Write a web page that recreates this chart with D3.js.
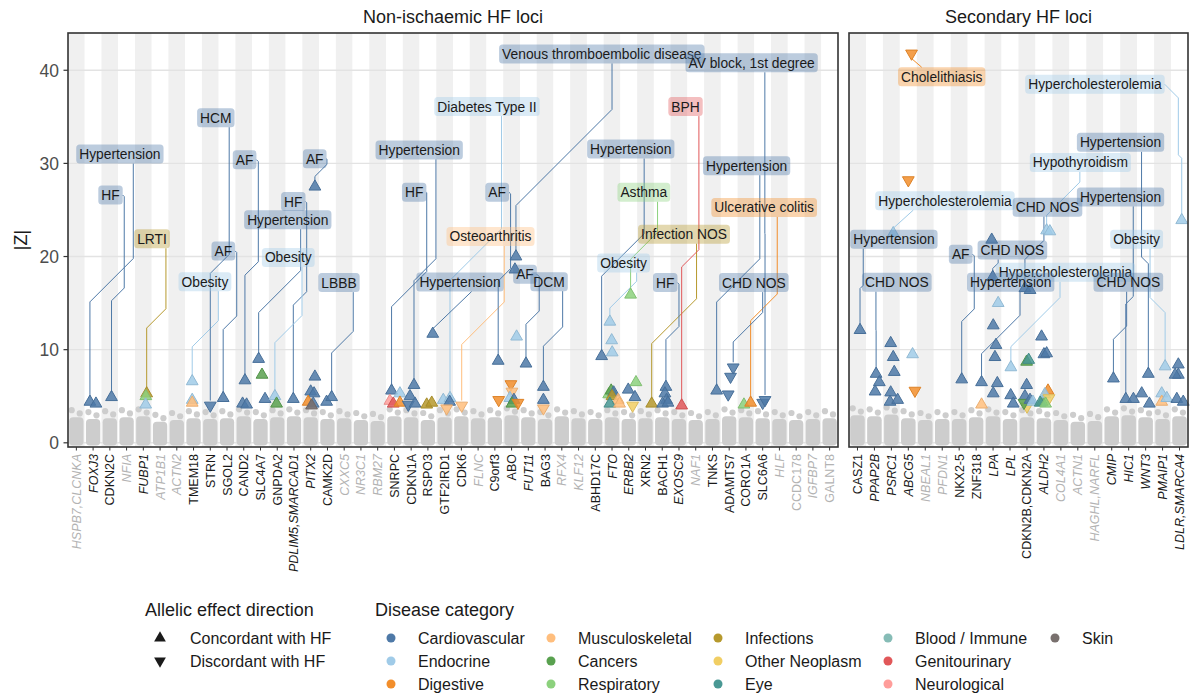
<!DOCTYPE html>
<html>
<head>
<meta charset="utf-8">
<script src="https://cdn.jsdelivr.net/npm/d3@7"></script>
<style>
  body { margin: 0; background: #fff; font-family: "Liberation Sans", Arial, sans-serif; }
</style>
</head>
<body>
<div id="viz"></div>
<script>
// ---- data ----
var lociLeft = ["HSPB7,CLCNKA","FOXJ3","CDKN2C","NFIA","FUBP1","ATP1B1","ACTN2","TMEM18","STRN","SGOL2",
  "CAND2","SLC4A7","GNPDA2","PDLIM5,SMARCAD1","PITX2","CAMK2D","CXXC5","NR3C1","RBM27","SNRPC",
  "CDKN1A","RSPO3","GTF2IRD1","CDK6","FLNC","C9orf3","ABO","FUT11","BAG3","RFX4",
  "KLF12","ABHD17C","FTO","ERBB2","XRN2","BACH1","EXOSC9","NAF1","TNKS","ADAMTS7",
  "CORO1A","SLC6A6","HLF","CCDC178","IGFBP7","GALNT8"];
var lociRight = ["CASZ1","PPAP2B","PSRC1","ABCG5","NBEAL1","PFDN1","NKX2-5","ZNF318","LPA","LPL",
  "CDKN2B,CDKN2A","ALDH2","COL4A1","ACTN1","HAGHL,NARFL","CMIP","HIC1","WNT3","PMAIP1","LDLR,SMARCA4"];

var italicLoci = ["HSPB7,CLCNKA","FOXJ3","NFIA","FUBP1","ATP1B1","ACTN2","PDLIM5,SMARCAD1","PITX2","CXXC5",
  "NR3C1","RBM27","FLNC","FUT11","RFX4","KLF12","FTO","ERBB2","EXOSC9","NAF1","HLF","IGFBP7",
  "PPAP2B","PSRC1","ABCG5","NBEAL1","PFDN1","LPA","LPL","ALDH2","COL4A1","ACTN1","HAGHL,NARFL",
  "CMIP","HIC1","WNT3","PMAIP1","LDLR,SMARCA4"];

// background |Z| (max of non-significant variants) per locus
var bgLeft = [3.5,3.3,3.4,3.5,3.6,3.0,3.2,3.4,3.3,3.4,3.6,3.3,3.5,3.6,3.5,3.3,3.4,3.2,3.1,3.6,
  3.5,3.2,3.5,3.6,3.4,3.5,3.7,3.5,3.3,3.6,3.4,3.3,3.5,3.3,3.4,3.5,3.3,3.2,3.3,3.6,3.5,3.4,3.3,3.2,3.3,3.4];
var bgRight = [3.7,3.6,3.8,3.4,3.2,3.3,3.3,3.5,3.6,3.3,3.5,3.4,3.2,3.0,3.1,3.6,3.7,3.5,3.3,3.6];

var categories = ["Cardiovascular","Endocrine","Digestive","Musculoskeletal","Cancers","Respiratory",
  "Infections","Other Neoplasm","Eye","Blood / Immune","Genitourinary","Neurological","Skin"];
var catColors = ["#4E79A7","#A0CBE8","#F28E2B","#FFBE7D","#59A14F","#8CD17D",
  "#B6992D","#F1CE63","#499894","#86BCB6","#E15759","#FF9D9A","#79706E"];

var CV = "Cardiovascular", EN = "Endocrine", DI = "Digestive", MS = "Musculoskeletal", CA = "Cancers",
    RE = "Respiratory", IN = "Infections", ON = "Other Neoplasm", EY = "Eye", GU = "Genitourinary",
    NE = "Neurological", SK = "Skin";

// [locus, position within locus (-0.5..0.5), |Z|, category, direction (1 concordant, -1 discordant)]
var hits = [
  ["FOXJ3",-0.19,4.4,CV,1],["FOXJ3",0.17,4.2,CV,1],
  ["CDKN2C",0.1,4.9,CV,1],
  ["FUBP1",0.2,5.3,IN,1],["FUBP1",0.15,5.0,RE,1],["FUBP1",0.14,4.1,EN,1],
  ["TMEM18",-0.08,6.6,EN,1],["TMEM18",-0.08,4.6,EN,1],["TMEM18",-0.08,4.3,MS,1],
  ["STRN",0,4.0,CV,-1],
  ["SGOL2",-0.23,4.8,CV,1],
  ["CAND2",0.07,6.7,CV,1],["CAND2",-0.07,4.2,CV,1],["CAND2",0.17,4.1,CV,1],
  ["SLC4A7",-0.11,9.0,CV,1],["SLC4A7",0.09,7.3,CA,1],["SLC4A7",0.27,4.7,CV,1],
  ["GNPDA2",-0.14,5.0,EN,1],["GNPDA2",-0.04,4.2,CA,1],
  ["PDLIM5,SMARCAD1",-0.04,4.7,CV,1],
  ["PITX2",0.25,27.5,CV,1],["PITX2",0.25,7.1,CV,1],["PITX2",0,5.5,CV,1],["PITX2",0.2,5.3,CV,1],
  ["PITX2",-0.15,4.4,DI,1],["PITX2",0.15,4.2,CV,1],["PITX2",0.05,4.0,SK,1],
  ["CAMK2D",-0.05,4.4,CV,1],["CAMK2D",0.25,4.9,CV,1],
  ["SNRPC",-0.17,5.6,CV,1],["SNRPC",-0.27,4.5,NE,1],["SNRPC",-0.07,4.2,GU,1],["SNRPC",0.33,5.3,EN,1],["SNRPC",0.33,4.3,DI,1],
  ["CDKN1A",0.17,6.2,CV,1],["CDKN1A",-0.07,5.0,CV,1],["CDKN1A",-0.17,4.1,CV,-1],["CDKN1A",0.23,4.2,CV,1],
  ["RSPO3",0.29,11.7,CV,1],["RSPO3",-0.07,4.1,IN,1],["RSPO3",0.23,4.3,IN,1],
  ["GTF2IRD1",-0.08,4.6,EN,1],["GTF2IRD1",0.32,4.8,EN,1],["GTF2IRD1",0.3,4.4,CV,1],["GTF2IRD1",0.12,3.7,MS,-1],
  ["CDK6",0.02,4.0,MS,-1],
  ["C9orf3",0.2,8.8,CV,1],["C9orf3",0.23,4.6,DI,-1],
  ["ABO",0.26,20.0,CV,1],["ABO",0.2,18.6,CV,1],["ABO",0.3,11.4,EN,1],["ABO",-0.04,6.3,DI,-1],["ABO",0.02,5.5,MS,-1],
  ["ABO",-0.1,4.8,EN,1],["ABO",0.14,4.6,CV,1],["ABO",0.02,4.2,CA,1],["ABO",0.38,4.3,DI,-1],
  ["FUT11",-0.14,8.5,CV,1],
  ["BAG3",-0.1,6.0,CV,1],["BAG3",-0.1,4.6,CV,1],["BAG3",-0.1,3.7,MS,-1],
  ["ABHD17C",0.38,9.3,CV,1],
  ["FTO",-0.13,13.0,EN,1],["FTO",-0.02,11.0,EN,1],["FTO",0.01,9.7,EN,1],
  ["FTO",-0.2,5.2,RE,1],["FTO",-0.05,5.6,CA,1],["FTO",0.1,5.4,CV,1],["FTO",0.0,5.0,IN,1],
  ["FTO",0.37,4.6,MS,1],["FTO",-0.13,4.2,EY,1],["FTO",0.45,4.2,MS,1],
  ["ERBB2",0.11,15.9,RE,1],["ERBB2",-0.03,5.7,CV,1],["ERBB2",0.43,6.5,RE,1],["ERBB2",0.37,4.9,CV,1],["ERBB2",0.23,4.0,ON,-1],
  ["XRN2",0.37,4.2,IN,1],
  ["BACH1",0.22,6.0,CV,1],["BACH1",0.16,5.3,CV,1],["BACH1",0.26,4.6,CV,1],["BACH1",0.02,4.2,CV,1],["BACH1",0.34,4.3,CV,1],
  ["EXOSC9",0.16,4.0,GU,1],
  ["TNKS",0.25,5.6,CV,1],
  ["ADAMTS7",0.24,8.1,CV,-1],["ADAMTS7",0.08,7.1,CV,-1],["ADAMTS7",-0.06,5.2,CV,-1],
  ["CORO1A",-0.12,4.1,RE,1],["CORO1A",0.28,4.3,DI,1],
  ["SLC6A6",0,4.3,CV,-1],["SLC6A6",0.14,4.6,CV,-1],

  ["CASZ1",0.15,12.1,CV,1],
  ["PPAP2B",0.1,7.4,CV,1],["PPAP2B",0.29,6.5,CV,1],["PPAP2B",0.04,5.5,CV,1],
  ["PSRC1",-0.04,10.7,CV,1],["PSRC1",0.11,9.2,CV,1],["PSRC1",0.17,7.6,CV,1],["PSRC1",-0.04,5.4,CV,1],
  ["PSRC1",-0.08,4.4,CV,1],["PSRC1",0.37,4.6,CV,1],["PSRC1",0.11,22.5,EN,1],
  ["ABCG5",0.25,9.5,EN,1],["ABCG5",0.39,5.6,DI,-1],["ABCG5",0.19,41.8,DI,-1],["ABCG5",0,28.2,DI,-1],
  ["NKX2-5",0.15,6.8,CV,1],
  ["ZNF318",0.32,6.5,CV,1],["ZNF318",0.32,4.1,MS,1],
  ["LPA",-0.08,21.8,CV,1],["LPA",-0.02,17.8,CV,1],["LPA",0.3,15.0,EN,1],["LPA",0.01,12.6,CV,1],
  ["LPA",0.17,10.5,CV,1],["LPA",0.11,9.2,CV,1],["LPA",0.25,6.4,CV,1],["LPA",0.01,5.3,CV,1],
  ["LPL",0.04,5.1,CV,1],["LPL",0.19,4.2,CV,1],["LPL",0.05,8.1,EN,1],
  ["CDKN2B,CDKN2A",-0.12,16.6,CV,1],["CDKN2B,CDKN2A",0.18,16.4,CV,1],["CDKN2B,CDKN2A",-0.02,8.7,CA,1],
  ["CDKN2B,CDKN2A",0.1,8.9,EY,1],["CDKN2B,CDKN2A",-0.02,6.2,CV,1],["CDKN2B,CDKN2A",-0.12,5.0,CV,1],
  ["CDKN2B,CDKN2A",0.0,3.9,ON,-1],["CDKN2B,CDKN2A",-0.18,4.3,CA,-1],["CDKN2B,CDKN2A",0.18,4.6,CV,1],
  ["CDKN2B,CDKN2A",0.35,4.4,EN,1],
  ["ALDH2",-0.14,11.4,CV,1],["ALDH2",0,9.5,CV,1],["ALDH2",0.16,9.6,CV,1],["ALDH2",0.16,22.8,EN,1],
  ["ALDH2",0.35,22.7,EN,1],["ALDH2",0.24,5.6,DI,1],["ALDH2",-0.1,4.4,CA,1],["ALDH2",0.05,5.2,EN,1],
  ["ALDH2",0.3,4.8,ON,-1],["ALDH2",-0.22,4.3,EY,1],["ALDH2",0.1,4.2,RE,1],
  ["CMIP",0.1,6.9,CV,1],
  ["HIC1",-0.17,4.7,CV,1],["HIC1",0.28,4.7,CV,1],
  ["WNT3",-0.23,5.3,CV,1],["WNT3",0.22,4.2,CV,1],["WNT3",0.16,7.4,CV,1],
  ["PMAIP1",0.15,8.2,EN,1],["PMAIP1",-0.05,5.3,EN,1],["PMAIP1",-0.05,4.4,MS,1],["PMAIP1",0.25,4.8,EN,1],
  ["LDLR,SMARCA4",-0.07,8.4,CV,1],["LDLR,SMARCA4",-0.07,7.3,CV,1],["LDLR,SMARCA4",-0.26,7.3,CV,1],
  ["LDLR,SMARCA4",-0.16,4.7,CV,1],["LDLR,SMARCA4",0.22,4.4,CV,1],["LDLR,SMARCA4",0.13,23.9,EN,1]
];

// [phenotype, category, locus, |Z| of labelled hit, label x (locus index), label |Z|, leader x (locus index)]
var labels = [
  ["Hypertension",CV,"FOXJ3",4.4, 2.60,31.0,3.40],
  ["HF",CV,"CDKN2C",4.9, 2.04,26.6,2.86],
  ["LRTI",IN,"FUBP1",5.3, 4.52,21.9,5.35],
  ["Obesity",EN,"TMEM18",6.6, 7.68,17.3,8.48],
  ["HCM",CV,"STRN",4.0, 8.33,34.9,9.13],
  ["AF",CV,"SGOL2",4.8, 8.78,20.6,9.58],
  ["AF",CV,"CAND2",6.7, 10.05,30.4,10.87],
  ["HF",CV,"PDLIM5,SMARCAD1",4.7, 12.96,25.9,13.76],
  ["Hypertension",CV,"SLC4A7",9.0, 12.63,23.96,13.4],
  ["Obesity",EN,"GNPDA2",5.0, 12.66,19.9,13.48],
  ["AF",CV,"PITX2",27.5, 14.24,30.5,14.97],
  ["LBBB",CV,"CAMK2D",4.9, 15.69,17.2,16.54],
  ["Hypertension",CV,"CDKN1A",6.2, 20.48,31.45,21.48],
  ["HF",CV,"SNRPC",5.6, 20.18,26.9,20.93],
  ["Diabetes Type II",EN,"GTF2IRD1",4.8, 24.53,36.1,25.4],
  ["Osteoarthritis",MS,"CDK6",4.0, 24.74,22.15,25.56],
  ["Hypertension",CV,"RSPO3",11.7, 22.92,17.26,23.61],
  ["AF",CV,"C9orf3",8.8, 25.14,26.9,25.94],
  ["Venous thromboembolic disease",CV,"ABO",20.0, 31.39,41.75,32.0],
  ["AF",CV,"FUT11",8.5, 26.8,18.1,27.65],
  ["DCM",CV,"BAG3",6.0, 28.24,17.3,29.05],
  ["Obesity",EN,"FTO",13.0, 32.69,19.3,33.47],
  ["Hypertension",CV,"ABHD17C",9.3, 33.12,31.54,33.92],
  ["Asthma",RE,"ERBB2",15.9, 33.9,26.9,34.72],
  ["Infection NOS",IN,"XRN2",4.2, 36.3,22.4,37.05],
  ["BPH",GU,"EXOSC9",4.0, 36.39,36.1,37.19],
  ["HF",CV,"BACH1",6.0, 35.18,17.2,36.0],
  ["AV block, 1st degree",CV,"SLC6A6",4.6, 40.34,40.8,41.13],
  ["Hypertension",CV,"TNKS",5.6, 40.04,29.75,40.83],
  ["Ulcerative colitis",DI,"CORO1A",4.3, 41.09,25.27,41.87],
  ["CHD NOS",CV,"ADAMTS7",8.1, 40.47,17.2,41.0],

  ["Cholelithiasis",DI,"ABCG5",41.8, 4.97,39.3,3.79],
  ["Hypercholesterolemia",EN,"LDLR,SMARCA4",23.9, 14.01,38.5,18.93],
  ["Hypertension",CV,"WNT3",7.4, 15.52,32.26,16.76],
  ["Hypothyroidism",EN,"ALDH2",22.8, 13.15,30.1,13.12],
  ["Hypercholesterolemia",EN,"PSRC1",22.5, 5.16,26.0,3.29],
  ["CHD NOS",CV,"CDKN2B,CDKN2A",16.6, 11.21,25.3,11.0],
  ["Hypertension",CV,"HIC1",4.7, 15.52,26.4,16.27],
  ["Hypertension",CV,"CASZ1",12.1, 2.15,21.86,0.34],
  ["AF",CV,"NKX2-5",6.8, 6.09,20.25,6.89],
  ["CHD NOS",CV,"LPA",17.8, 9.14,20.7,8.3],
  ["Obesity",EN,"PMAIP1",8.2, 16.47,21.86,17.26],
  ["CHD NOS",CV,"PPAP2B",7.4, 2.32,17.24,1.09],
  ["Hypercholesterolemia",EN,"LPL",8.1, 12.27,18.3,11.95],
  ["Hypertension",CV,"ZNF318",6.5, 9.04,17.24,9.59],
  ["CHD NOS",CV,"CMIP",6.9, 15.98,17.24,15.88]
];

var yTicks = [0, 10, 20, 30, 40];

// ---- layout ----
var width = 1193, height = 697;
var plotTop = 33, plotBottom = 447;

var svg = d3.select("#viz").append("svg")
    .attr("width", width)
    .attr("height", height)
    .style("font-family", "'Liberation Sans', Arial, sans-serif");

var y = d3.scaleLinear().domain([-0.45, 44]).range([plotBottom, plotTop]);
var color = d3.scaleOrdinal().domain(categories).range(catColors);

var panels = [
  { title: "Non-ischaemic HF loci", loci: lociLeft, bg: bgLeft, x0: 68, x1: 838 },
  { title: "Secondary HF loci", loci: lociRight, bg: bgRight, x0: 849, x1: 1188 }
];

var where = {};
panels.forEach(function(p) {
  p.x = d3.scaleLinear().domain([-0.5, p.loci.length - 0.5]).range([p.x0, p.x1]);
  p.band = (p.x1 - p.x0) / p.loci.length;
  p.loci.forEach(function(l, i) { where[l] = { panel: p, i: i }; });
});

var hasHits = {};
hits.forEach(function(h) { hasHits[h[0]] = true; });

function hx(h) { var w = where[h[0]]; return w.panel.x(w.i + h[1]); }

var tri = d3.symbol().type(d3.symbolTriangle).size(60);

panels.forEach(function(p) {
  var g = svg.append("g");

  // alternating locus stripes
  g.selectAll(".stripe").data(p.loci).enter().append("rect")
      .attr("x", function(d, i) { return p.x(i - 0.5); })
      .attr("y", plotTop)
      .attr("width", p.band)
      .attr("height", plotBottom - plotTop)
      .attr("fill", function(d, i) { return i % 2 === 0 ? "#f0f0f0" : "#ffffff"; });

  // grid
  g.selectAll(".grid").data(yTicks).enter().append("line")
      .attr("x1", p.x0).attr("x2", p.x1)
      .attr("y1", function(d) { return y(d); })
      .attr("y2", function(d) { return y(d); })
      .attr("stroke", "#e3e3e3").attr("stroke-width", 1.4);

  // background variants
  var bg = g.append("g").attr("fill", "#cdcdcd");
  p.loci.forEach(function(l, i) {
    var cx = p.x(i), top3 = p.bg[i];
    bg.append("rect")
        .attr("x", cx - p.band / 2 + 1.2)
        .attr("y", y(top3 - 0.75))
        .attr("width", p.band - 2.4)
        .attr("height", y(-0.3) - y(top3 - 0.75))
        .attr("rx", 4);
    bg.append("circle").attr("cx", cx - 0.28 * p.band).attr("cy", y(top3)).attr("r", 3.1);
    bg.append("circle").attr("cx", cx + 0.2 * p.band).attr("cy", y(top3 - 0.35)).attr("r", 3.1);
  });

  // x ticks
  g.selectAll(".xt").data(p.loci).enter().append("line")
      .attr("x1", function(d, i) { return p.x(i); })
      .attr("x2", function(d, i) { return p.x(i); })
      .attr("y1", plotBottom).attr("y2", plotBottom + 3.5)
      .attr("stroke", "#333").attr("stroke-width", 1);

  // x labels
  g.selectAll(".xl").data(p.loci).enter().append("text")
      .attr("transform", function(d, i) { return "translate(" + (p.x(i) + 4.5) + "," + (plotBottom + 7) + ") rotate(-90)"; })
      .attr("text-anchor", "end")
      .attr("font-size", 12.5)
      .attr("font-style", function(d) { return italicLoci.indexOf(d) >= 0 ? "italic" : "normal"; })
      .attr("fill", function(d) { return hasHits[d] ? "#1a1a1a" : "#b3b3b3"; })
      .text(function(d) { return d; });

  // strip title
  svg.append("text")
      .attr("x", (p.x0 + p.x1) / 2).attr("y", 23)
      .attr("text-anchor", "middle")
      .attr("font-size", 18).attr("fill", "#1a1a1a")
      .text(p.title);
});

// y axis (left panel only)
var ya = svg.append("g");
ya.selectAll("line").data(yTicks).enter().append("line")
    .attr("x1", 63.5).attr("x2", 68)
    .attr("y1", function(d) { return y(d); }).attr("y2", function(d) { return y(d); })
    .attr("stroke", "#333").attr("stroke-width", 1.2);
ya.selectAll("text").data(yTicks).enter().append("text")
    .attr("x", 59).attr("y", function(d) { return y(d); })
    .attr("dy", "0.36em").attr("text-anchor", "end")
    .attr("font-size", 17.5).attr("fill", "#4d4d4d")
    .text(function(d) { return d; });
svg.append("text")
    .attr("transform", "translate(27," + ((plotTop + plotBottom) / 2) + ") rotate(-90)")
    .attr("text-anchor", "middle").attr("font-size", 18).attr("fill", "#1a1a1a")
    .text("|Z|");

// label layer: leaders first, then hits, then label boxes
var leadG = svg.append("g").attr("fill", "none").attr("stroke-width", 1);
var hitG = svg.append("g");
var labG = svg.append("g");

hitG.selectAll("path").data(hits).enter().append("path")
    .attr("d", tri)
    .attr("transform", function(d) {
      return "translate(" + hx(d) + "," + y(d[2]) + ")" + (d[4] < 0 ? " rotate(180)" : "");
    })
    .attr("fill", function(d) { return color(d[3]); })
    .attr("fill-opacity", 0.85)
    .attr("stroke", function(d) { return d3.color(color(d[3])).darker(0.25); })
    .attr("stroke-width", 1);

var boxH = 19;
labels.forEach(function(l) {
  var w = where[l[2]], p = w.panel;
  var target = hits.filter(function(h) { return h[0] === l[2] && Math.abs(h[2] - l[3]) < 0.05; })[0];
  var px = hx(target), py = y(target[2]);
  var cx = p.x(l[4]), cy = y(l[5]);
  var col = color(l[1]);

  var g = labG.append("g");
  var rect = g.append("rect").attr("fill", col).attr("fill-opacity", 0.38).attr("rx", 3.5);
  var t = g.append("text")
      .attr("x", cx).attr("y", cy).attr("dy", "0.36em")
      .attr("text-anchor", "middle").attr("font-size", 13.8).attr("fill", "#1a1a1a")
      .text(l[0]);
  var tw = t.node().getComputedTextLength() + 6;
  var bx0 = cx - tw / 2, bx1 = cx + tw / 2;
  rect.attr("x", bx0).attr("y", cy - boxH / 2).attr("width", tw).attr("height", boxH);

  // leader: vertical, 45 degree jog, vertical
  var above = cy < py, s = above ? 1 : -1;
  var sx = p.x(l[6]);
  var y0 = above ? cy + boxH / 2 : cy - boxH / 2;
  var y1 = py - s * 5;
  var pts = [];
  if (sx > bx1 || sx < bx0) {
    var ex = sx > bx1 ? bx1 : bx0;
    pts.push([ex, cy]);
    y0 = cy + s * Math.abs(sx - ex);
  }
  var dx = Math.abs(px - sx), dy = Math.abs(y1 - y0);
  if (dx >= dy) {
    pts.push([sx, y0], [px, y1]);
  } else {
    var mid = (y0 + y1) / 2;
    pts.push([sx, y0], [sx, mid - s * dx / 2], [px, mid + s * dx / 2], [px, y1]);
  }
  leadG.append("path").attr("d", d3.line()(pts)).attr("stroke", col);
});

// panel borders
panels.forEach(function(p) {
  svg.append("rect")
      .attr("x", p.x0).attr("y", plotTop)
      .attr("width", p.x1 - p.x0).attr("height", plotBottom - plotTop)
      .attr("fill", "none").attr("stroke", "#333").attr("stroke-width", 1.6);
});

// ---- legends ----
var lg = svg.append("g").attr("font-size", 16).attr("fill", "#1a1a1a");
lg.append("text").attr("x", 145).attr("y", 616).attr("font-size", 18).text("Allelic effect direction");
[["Concordant with HF", 1], ["Discordant with HF", -1]].forEach(function(d, i) {
  var yy = 638 + i * 23;
  lg.append("path").attr("d", tri)
      .attr("transform", "translate(160," + yy + ")" + (d[1] < 0 ? " rotate(180)" : ""))
      .attr("fill", "#1a1a1a");
  lg.append("text").attr("x", 190).attr("y", yy).attr("dy", "0.36em").text(d[0]);
});

lg.append("text").attr("x", 375).attr("y", 616).attr("font-size", 18).text("Disease category");
var colX = [391, 551, 718, 888, 1055];
categories.forEach(function(c, i) {
  var col = Math.floor(i / 3), row = i % 3;
  var yy = 638 + row * 23;
  lg.append("circle").attr("cx", colX[col]).attr("cy", yy).attr("r", 4.5).attr("fill", color(c));
  lg.append("text").attr("x", colX[col] + 27).attr("y", yy).attr("dy", "0.36em").text(c);
});
</script>
</body>
</html>
